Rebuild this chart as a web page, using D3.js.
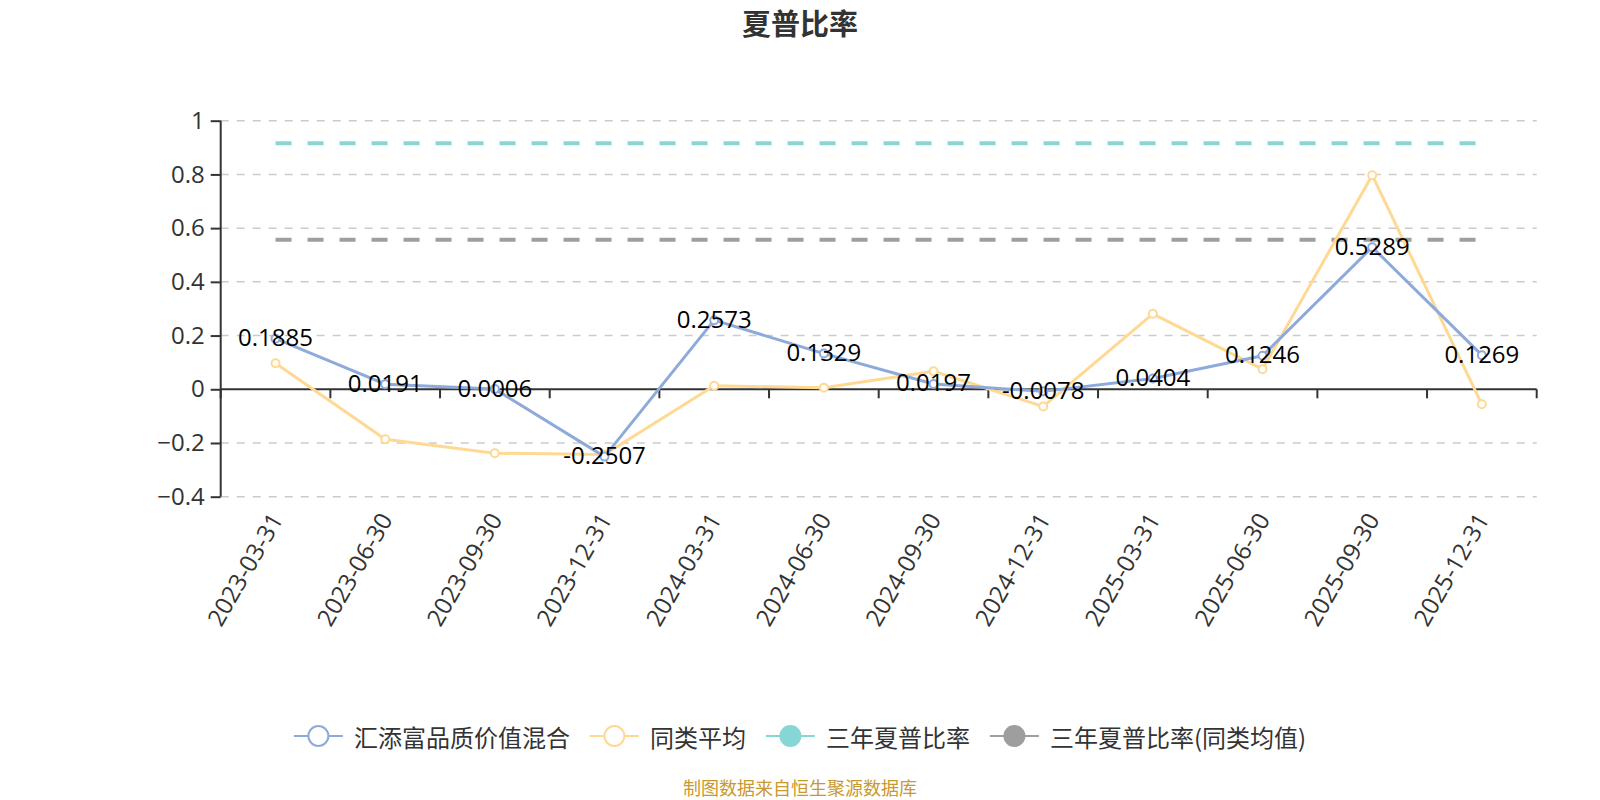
<!DOCTYPE html>
<html>
<head>
<meta charset="utf-8">
<script src="https://cdn.jsdelivr.net/npm/d3@7/dist/d3.min.js"></script>
<style>
  html, body { margin: 0; padding: 0; background: #fff; }
  svg { display: block; font-family: "Open Sans", "Noto Sans CJK SC", sans-serif; }
</style>
</head>
<body>
<svg id="chart" width="1600" height="800"></svg>
<script>
const categories = ["2023-03-31","2023-06-30","2023-09-30","2023-12-31","2024-03-31","2024-06-30","2024-09-30","2024-12-31","2025-03-31","2025-06-30","2025-09-30","2025-12-31"];
const fundValues = [0.1885, 0.0191, 0.0006, -0.2507, 0.2573, 0.1329, 0.0197, -0.0078, 0.0404, 0.1246, 0.5289, 0.1269];
const peerValues = [0.097, -0.186, -0.238, -0.243, 0.013, 0.006, 0.067, -0.064, 0.281, 0.075, 0.797, -0.056];
const sharpe3y = 0.916;
const sharpe3yPeer = 0.557;
const yTicks = [-0.4, -0.2, 0, 0.2, 0.4, 0.6, 0.8, 1];
const seriesNames = ["汇添富品质价值混合", "同类平均", "三年夏普比率", "三年夏普比率(同类均值)"];
const colors = ["#8eaadb", "#ffd994", "#87d6d6", "#9e9e9e"];
const titleText = "夏普比率";
const footerText = "制图数据来自恒生聚源数据库";

const svg = d3.select("#chart");
const pLeft = 220.7, pRight = 1536.7, pTop = 120.7, pBottom = 496.7;

const x = d3.scaleBand().domain(categories).range([pLeft, pRight]);
const y = d3.scaleLinear().domain([-0.4, 1]).range([pBottom, pTop]);
const cx = d => x(d) + x.bandwidth() / 2;

// title
svg.append("text").attr("x", 800).attr("y", 22).attr("text-anchor", "middle")
  .attr("dominant-baseline", "central").attr("font-size", 29).attr("font-weight", "bold")
  .attr("fill", "#333").style("font-family", "'Noto Sans CJK SC', sans-serif").text(titleText);

// grid lines
svg.append("g").selectAll("line").data(yTicks.filter(t => t !== 0)).join("line")
  .attr("x1", pLeft).attr("x2", pRight)
  .attr("y1", d => y(d)).attr("y2", d => y(d))
  .attr("stroke", "#cccccc").attr("stroke-width", 1.5).attr("stroke-dasharray", "8,8");

// y axis
const yAxis = d3.axisLeft(y).tickValues(yTicks).tickSize(10).tickPadding(6)
  .tickFormat(d => d3.format("")(Math.round(d * 10) / 10));
const yg = svg.append("g").attr("transform", `translate(${pLeft},0)`).call(yAxis);
yg.select(".domain").attr("stroke", "#333").attr("stroke-width", 2)
  .attr("d", `M0,${pTop}V${pBottom}`);
yg.selectAll(".tick line").attr("stroke", "#333").attr("stroke-width", 2);
yg.selectAll(".tick text").attr("font-size", 24).attr("fill", "#333")
  .style("font-family", "'Open Sans', sans-serif");

// x axis at zero
const xg = svg.append("g").attr("transform", `translate(0,${y(0)})`);
xg.append("line").attr("x1", pLeft).attr("x2", pRight).attr("y1", 0).attr("y2", 0)
  .attr("stroke", "#333").attr("stroke-width", 2);
const boundaries = categories.map(c => x(c)).concat([pRight]);
xg.selectAll("line.tk").data(boundaries).join("line").attr("class", "tk")
  .attr("x1", d => d).attr("x2", d => d).attr("y1", 0).attr("y2", 9)
  .attr("stroke", "#333").attr("stroke-width", 2);

// x labels
svg.append("g").selectAll("text").data(categories).join("text")
  .attr("transform", d => `translate(${cx(d)},${pBottom + 18}) rotate(-60)`)
  .attr("text-anchor", "end").attr("dominant-baseline", "central")
  .attr("font-size", 24).attr("fill", "#333").text(d => d);

// reference dashed lines
[[sharpe3y, colors[2]], [sharpe3yPeer, colors[3]]].forEach(([v, c]) => {
  svg.append("line").attr("x1", cx(categories[0])).attr("x2", cx(categories[categories.length - 1]))
    .attr("y1", y(v)).attr("y2", y(v))
    .attr("stroke", c).attr("stroke-width", 4).attr("stroke-dasharray", "16,16");
});

const line = d3.line().x((d, i) => cx(categories[i])).y(d => y(d));

// peer series
svg.append("path").datum(peerValues).attr("d", line).attr("fill", "none")
  .attr("stroke", colors[1]).attr("stroke-width", 3).attr("stroke-linejoin", "round");
svg.append("g").selectAll("circle").data(peerValues).join("circle")
  .attr("cx", (d, i) => cx(categories[i])).attr("cy", d => y(d)).attr("r", 4)
  .attr("fill", "#fff").attr("stroke", colors[1]).attr("stroke-width", 2);

// fund series
svg.append("path").datum(fundValues).attr("d", line).attr("fill", "none")
  .attr("stroke", colors[0]).attr("stroke-width", 3).attr("stroke-linejoin", "round");
svg.append("g").selectAll("circle").data(fundValues).join("circle")
  .attr("cx", (d, i) => cx(categories[i])).attr("cy", d => y(d)).attr("r", 4)
  .attr("fill", "#fff").attr("stroke", colors[0]).attr("stroke-width", 2);

// data labels
svg.append("g").selectAll("text").data(fundValues).join("text")
  .attr("x", (d, i) => cx(categories[i])).attr("y", d => y(d) - 2)
  .attr("text-anchor", "middle").attr("dominant-baseline", "central")
  .attr("font-size", 24).attr("fill", "#000").text(d => d.toFixed(4));

// legend
const lg = svg.append("g");
const ly = 736;
let xpos = 0;
seriesNames.forEach((name, i) => {
  const g = lg.append("g");
  g.append("line").attr("x1", 0).attr("x2", 49).attr("y1", ly).attr("y2", ly)
    .attr("stroke", colors[i]).attr("stroke-width", 2);
  g.append("circle").attr("cx", 24.5).attr("cy", ly).attr("r", 10)
    .attr("fill", i < 2 ? "#fff" : colors[i]).attr("stroke", colors[i]).attr("stroke-width", 2);
  const t = g.append("text").attr("x", 60).attr("y", ly).attr("dominant-baseline", "central")
    .attr("font-size", 24).attr("fill", "#333")
    .style("font-family", "'Noto Sans CJK SC', sans-serif").text(name);
  const w = 60 + t.node().getComputedTextLength();
  g.attr("transform", `translate(${xpos},0)`);
  xpos += w + 20;
});
const total = xpos - 20;
lg.attr("transform", `translate(${800 - total / 2},0)`);

// footer
svg.append("text").attr("x", 800).attr("y", 787).attr("text-anchor", "middle")
  .attr("dominant-baseline", "central").attr("font-size", 18).attr("fill", "#c9982e")
  .style("font-family", "'Noto Sans CJK SC', sans-serif").text(footerText);
</script>
</body>
</html>
